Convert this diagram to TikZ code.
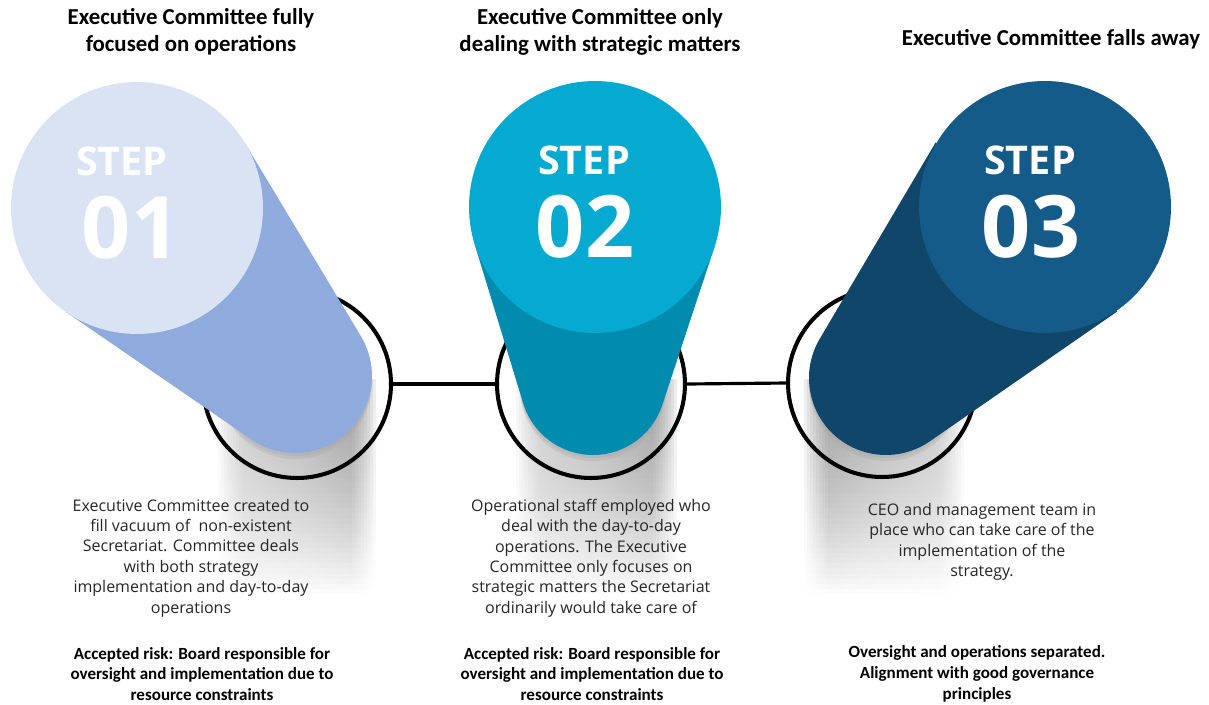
\documentclass[tikz,border=0pt]{standalone}
\usepackage{fontspec}
\setmainfont{Carlito}
\newfontfamily\stepfont{Open Sans}
\usetikzlibrary{calc,fadings}

\definecolor{topone}{HTML}{DAE3F3}
\definecolor{bodyone}{HTML}{8FAADC}
\definecolor{toptwo}{HTML}{06AAD0}
\definecolor{bodytwo}{HTML}{018CAF}
\definecolor{topthree}{HTML}{145B8A}
\definecolor{bodythree}{HTML}{0F4669}

\tikzset{
  ring/.style={circle, draw=black, line width=2.3pt, minimum size=3.76cm, inner sep=0pt},
  link/.style={line width=1.8pt, black},
  topdisc/.style={circle, minimum size=5.04cm, inner sep=0pt},
  steplabel/.style={text=white, font=\stepfont\bfseries\fontsize{22.5pt}{24pt}\selectfont},
  stepnumber/.style={text=white, font=\stepfont\bfseries\fontsize{49pt}{50pt}\selectfont},
  heading/.style={align=center, font=\bfseries\fontsize{13pt}{15.3pt}\selectfont},
  blurb/.style={align=center, text=black!85, font=\stepfont\fontsize{9.1pt}{11.6pt}\selectfont},
  remark/.style={align=center, font=\bfseries\fontsize{9.7pt}{11.8pt}\selectfont},
  groundshade/.style={left color=black!22, right color=black!45, path fading=south, opacity=0.17}
}

\begin{document}
\begin{tikzpicture}[x=0.02cm, y=-0.02cm]
    \useasboundingbox (0,0) rectangle (1209,704);

    % schatten onder de ringen (zachte randen door lagen)
    \foreach \w in {0,3,...,24} {
        \shade[groundshade] (218+\w,380) rectangle (376-\w,595);
        \shade[groundshade] (516+\w,380) rectangle (677-\w,595);
        \shade[groundshade, left color=black!45, right color=black!22] (804+\w,380) rectangle (964-\w,595);
    }

    % ringen en verbindingen
    \node[ring] (ring1) at (297,384) {};
    \node[ring] (ring2) at (591,384) {};
    \node[ring] (ring3) at (882,383) {};
    \draw[link] (ring1.east) -- (ring2.west);
    \draw[link] (ring2.east) -- (ring3.west);

    % cilinders: van de bovenste cirkel naar het uiteinde in de ring
    \foreach \ax/\ay/\ar/\bx/\by/\br/\col in {137/208/126/295/376/77/bodyone,
        595/207/126/593/382/73/bodytwo, 1045/207/127/886/378/77/bodythree} {
        \pgfmathsetmacro{\cyllen}{100*sqrt(((\bx-\ax)/100)^2+((\by-\ay)/100)^2)}
        \pgfmathsetmacro{\cylang}{atan2(\by-\ay,\bx-\ax)}
        \pgfmathsetmacro{\cylphi}{acos((\ar-\br)/\cyllen)}
        \pgfmathsetmacro{\angA}{\cylang+\cylphi}
        \pgfmathsetmacro{\angB}{\cylang-\cylphi}
        \fill[black!35, opacity=0.3] (\bx,\by+6) circle[radius=\br];
        \fill[black!35, opacity=0.3] (\bx,\by+3) circle[radius=\br];
        \fill[\col] ($(\ax,\ay)+(\angA:\ar)$) -- ($(\bx,\by)+(\angA:\br)$)
            arc[start angle=\angA, end angle=\angB, radius=\br]
            -- ($(\ax,\ay)+(\angB:\ar)$) -- cycle;
    }

    % bovenkant van de cilinders
    \node[topdisc, fill=topone] (top1) at (137,208) {};
    \node[topdisc, fill=toptwo] (top2) at (595,207) {};
    \node[topdisc, fill=topthree] (top3) at (1045,207) {};

    \node[steplabel] (label1) at (122,161) {STEP};
    \node[stepnumber] (num1) at (131,228) {01};
    \node[steplabel] (label2) at (584,160) {STEP};
    \node[stepnumber] (num2) at (585,227) {02};
    \node[steplabel] (label3) at (1030,160) {STEP};
    \node[stepnumber] (num3) at (1031,227) {03};

    % titels
    \node[heading] (title1) at (191,32) {Executive Committee fully\\focused on operations};
    \node[heading] (title2) at (600,32) {Executive Committee only\\dealing with strategic matters};
    \node[heading] (title3) at (1051,39) {Executive Committee falls away};

    % beschrijvingen
    \node[blurb] (text1) at (191,558) {Executive Committee created to\\fill vacuum of\ \ non-existent\\Secretariat. Committee deals\\with both strategy\\implementation and day-to-day\\operations};
    \node[blurb] (text2) at (591,558) {Operational staff employed who\\deal with the day-to-day\\operations. The Executive\\Committee only focuses on\\strategic matters the Secretariat\\ordinarily would take care of};
    \node[blurb] (text3) at (982,542) {CEO and management team in\\place who can take care of the\\implementation of the\\strategy.};

    \node[remark] (note1) at (202,674) {Accepted risk: Board responsible for\\oversight and implementation due to\\resource constraints};
    \node[remark] (note2) at (592,674) {Accepted risk: Board responsible for\\oversight and implementation due to\\resource constraints};
    \node[remark] (note3) at (977,674) {Oversight and operations separated.\\Alignment with good governance\\principles};
\end{tikzpicture}
\end{document}
